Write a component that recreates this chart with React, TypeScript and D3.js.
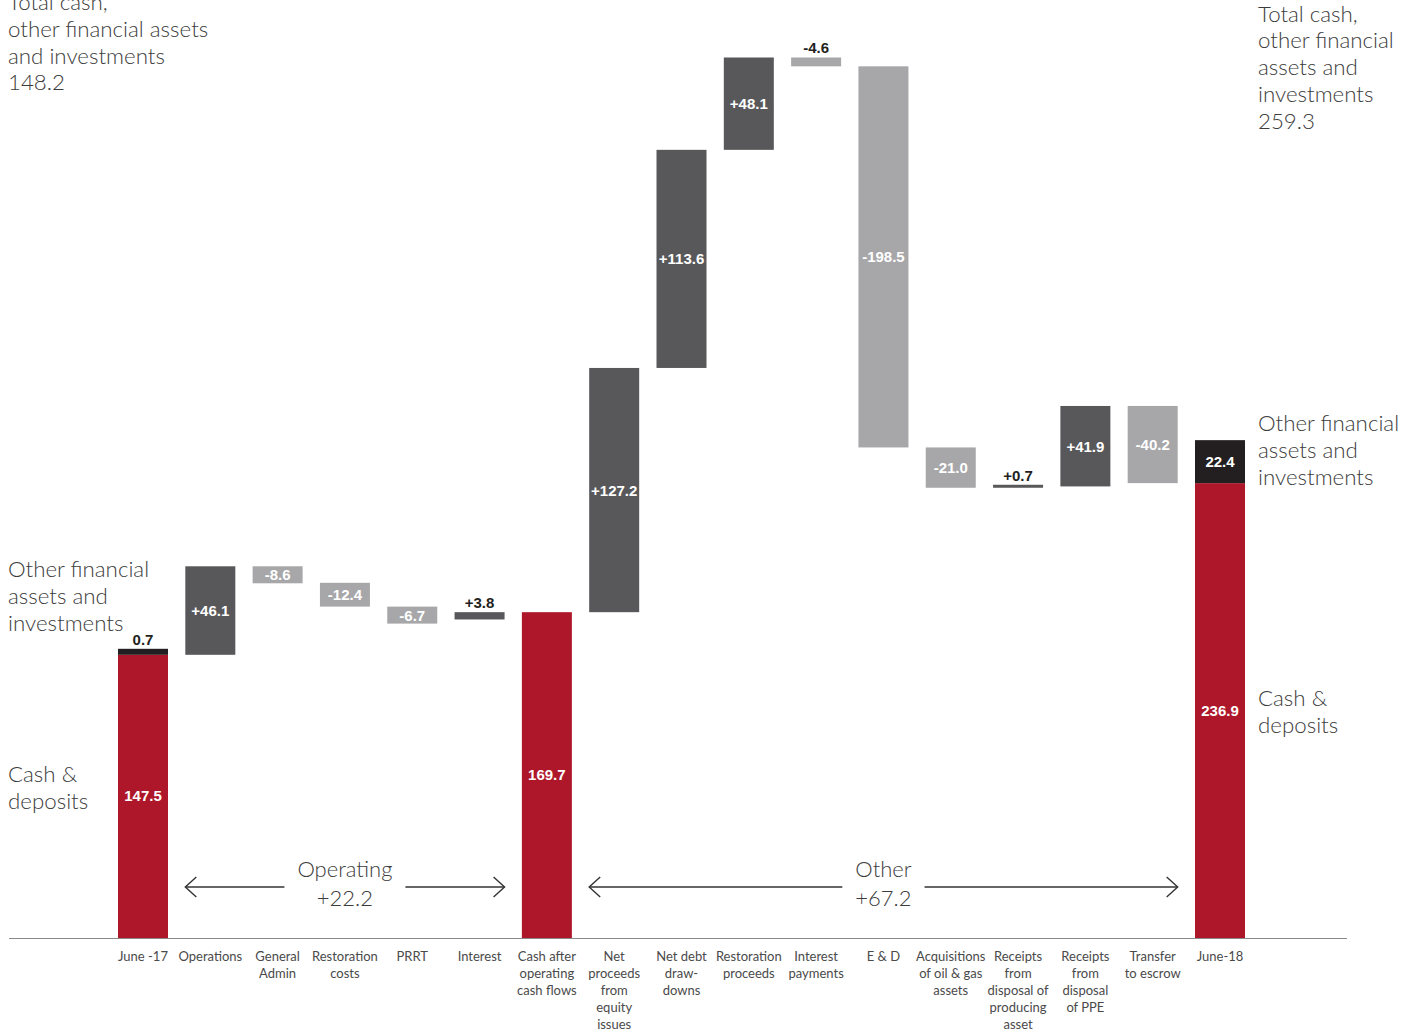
import React, { useEffect, useRef } from "react";
import * as d3 from "d3";

const categories: string[][] = [
  ["June -17"],
  ["Operations"],
  ["General", "Admin"],
  ["Restoration", "costs"],
  ["PRRT"],
  ["Interest"],
  ["Cash after", "operating", "cash flows"],
  ["Net", "proceeds", "from", "equity", "issues"],
  ["Net debt", "draw-", "downs"],
  ["Restoration", "proceeds"],
  ["Interest", "payments"],
  ["E & D"],
  ["Acquisitions", "of oil & gas", "assets"],
  ["Receipts", "from", "disposal of", "producing", "asset"],
  ["Receipts", "from", "disposal", "of PPE"],
  ["Transfer", "to escrow"],
  ["June-18"],
];

// null = total column, number = change
const deltas: (number | null)[] = [
  null, 46.1, -8.6, -12.4, -6.7, 3.8, null, 127.2, 113.6, 48.1, -4.6, -198.5, -21.0, 0.7, 41.9, -40.2, null,
];
const cashTotals = [147.5, 169.7, 236.9];
const otherTotals = [0.7, 0, 22.4];
const grandTotals = ["148.2", "259.3"];
const groupNames = ["Operating", "Other"];
const groupValues = ["+22.2", "+67.2"];
const groupRanges = [[1, 5], [7, 15]];

const RED = "#AE1729";
const DARK = "#58585A";
const LIGHT = "#A7A7AA";
const BLACK = "#231F20";
const TEXT = "#3c3c3c";
const LIGHTFONT = "Lato, 'Open Sans', sans-serif";
const BOLDFONT = "'Liberation Sans', Arial, sans-serif";

export default function App() {
  const ref = useRef<SVGSVGElement>(null);
  useEffect(() => {
    const svg = d3.select(ref.current);
    svg.selectAll("*").remove();
    const base = 938;
    const step = (1220 - 143) / 16;
    const x = d3
      .scaleBand<number>()
      .domain(d3.range(categories.length))
      .range([143 - step / 2, 1220 + step / 2])
      .paddingInner(1 - 50 / step)
      .paddingOuter((1 - 50 / step) / 2);
    const y = d3.scaleLinear().domain([0, 100]).range([base, base - 192]);
    const bw = x.bandwidth();

    // axis line
    svg.append("line").attr("x1", 9).attr("x2", 1347).attr("y1", base + 0.5).attr("y2", base + 0.5)
      .attr("stroke", "#8a8a8a").attr("stroke-width", 1);

    let run = 0;
    let ti = 0;
    const g = svg.append("g");
    const valueText = (cx: number, yy: number, fill: string, s: string) =>
      g.append("text").attr("x", cx).attr("y", yy).attr("text-anchor", "middle")
        .attr("fill", fill).attr("font-family", BOLDFONT).attr("font-weight", "bold").attr("font-size", 15)
        .text(s);
    deltas.forEach((d, i) => {
      const x0 = x(i)!;
      const cx = x0 + bw / 2;
      if (d === null) {
        const cash = cashTotals[ti];
        const other = otherTotals[ti];
        ti++;
        run = cash;
        g.append("rect").attr("x", x0).attr("width", bw).attr("y", y(cash)).attr("height", base - y(cash)).attr("fill", RED);
        valueText(cx, (y(cash) + base) / 2 + 5, "#fff", cash.toFixed(1));
        if (other > 0) {
          let top = y(cash + other);
          let h = y(cash) - top;
          if (h < 6) { h = 6; top = y(cash) - h; }
          g.append("rect").attr("x", x0).attr("width", bw).attr("y", top).attr("height", h).attr("fill", BLACK);
          if (h >= 18) valueText(cx, top + h / 2 + 5, "#fff", other.toFixed(1));
          else valueText(cx, top - 4, BLACK, other.toFixed(1));
        }
      } else {
        const start = run;
        const end = run + d;
        run = end;
        const inside = Math.abs(d) >= 6;
        let top = y(Math.max(start, end));
        let h = Math.abs(y(start) - y(end));
        if (inside && h < 17) h = 17;
        if (!inside && h < 3) { top = top + h - 3; h = 3; }
        g.append("rect").attr("x", x0).attr("width", bw).attr("y", top).attr("height", h)
          .attr("fill", d >= 0 ? DARK : LIGHT);
        const label = (d >= 0 ? "+" : "") + d.toFixed(1);
        if (inside) valueText(cx, top + h / 2 + 5.5, "#fff", label);
        else valueText(cx, top - 4, BLACK, label);
      }
      // category label
      const t = svg.append("text").attr("text-anchor", "middle").attr("fill", "#4a4a4a")
        .attr("font-family", LIGHTFONT).attr("font-size", 13);
      categories[i].forEach((line, k) => {
        t.append("tspan").attr("x", cx).attr("y", base + 23 + k * 17).text(line);
      });
    });

    // group arrows
    groupNames.forEach((name, gi) => {
      const [a, b] = groupRanges[gi];
      const left = x(a)!;
      const right = x(b)! + bw;
      const mid = (left + right) / 2;
      const ay = 887;
      const tg = svg.append("g");
      const t1 = tg.append("text").attr("x", mid).attr("y", 877).attr("text-anchor", "middle").attr("fill", TEXT)
        .attr("font-family", LIGHTFONT).attr("font-weight", 300).attr("font-size", 22).text(name);
      const t2 = tg.append("text").attr("x", mid).attr("y", 906).attr("text-anchor", "middle").attr("fill", TEXT)
        .attr("font-family", LIGHTFONT).attr("font-weight", 300).attr("font-size", 22).text(groupValues[gi]);
      const tw = Math.max((t1.node() as SVGTextElement).getComputedTextLength(), (t2.node() as SVGTextElement).getComputedTextLength());
      const gap = tw / 2 + 13;
      const st = "#333";
      tg.append("line").attr("x1", left).attr("x2", mid - gap).attr("y1", ay).attr("y2", ay).attr("stroke", st).attr("stroke-width", 1.4);
      tg.append("line").attr("x1", mid + gap).attr("x2", right).attr("y1", ay).attr("y2", ay).attr("stroke", st).attr("stroke-width", 1.4);
      tg.append("path").attr("d", `M${left + 11},${ay - 10}L${left},${ay}L${left + 11},${ay + 10}`)
        .attr("fill", "none").attr("stroke", st).attr("stroke-width", 1.4);
      tg.append("path").attr("d", `M${right - 11},${ay - 10}L${right},${ay}L${right - 11},${ay + 10}`)
        .attr("fill", "none").attr("stroke", st).attr("stroke-width", 1.4);
    });

    // annotations
    const note = (lines: string[], x0: number, y0: number) => {
      const t = svg.append("text").attr("fill", TEXT).attr("font-family", LIGHTFONT)
        .attr("font-weight", 300).attr("font-size", 22.3);
      lines.forEach((l, k) => t.append("tspan").attr("x", x0).attr("y", y0 + k * 26.8).text(l));
    };
    note(["Total cash,", "other financial assets", "and investments", grandTotals[0]], 8, 10);
    note(["Total cash,", "other financial", "assets and", "investments", grandTotals[1]], 1258, 21.5);
    note(["Other financial", "assets and", "investments"], 8, 577);
    note(["Cash &", "deposits"], 8, 782);
    note(["Other financial", "assets and", "investments"], 1258, 431);
    note(["Cash &", "deposits"], 1258, 706);
  }, []);
  return (
    <div style={{ position: "absolute", left: 0, top: 0 }}>
      <svg ref={ref} width={1413} height={1033} style={{ display: "block", background: "#fff" }} />
    </div>
  );
}
